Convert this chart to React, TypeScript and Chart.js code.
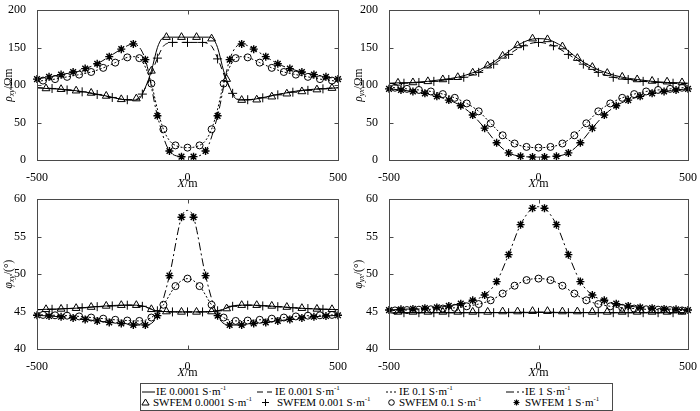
import React, { useEffect, useRef } from "react";
import { Chart, registerables } from "chart.js";

Chart.register(...registerables);

const FONT = '"Liberation Serif", "Times New Roman", serif';

// SWFEM station positions (m)
const X_TRI = [-470, -420, -370, -320, -270, -220, -170, -120, -70, -20, 30, 80, 130, 180, 230, 280, 330, 380, 430, 480];
const X_PLUS = [-450, -400, -350, -300, -250, -200, -150, -100, -50, 0, 50, 100, 150, 200, 250, 300, 350, 400, 450];
const X_CIRC = [-480, -440, -400, -360, -320, -280, -240, -200, -160, -120, -80, -40, 0, 40, 80, 120, 160, 200, 240, 280, 320, 360, 400, 440, 480];
const X_STAR = [-500, -460, -420, -380, -340, -300, -260, -220, -180, -140, -100, -60, -20, 20, 60, 100, 140, 180, 220, 260, 300, 340, 380, 420, 460, 500];

// IE curve sample positions (m)
const X_PLUS_IE = [-500, -450, -400, -350, -300, -250, -200, -150, -100, -50, 0, 50, 100, 150, 200, 250, 300, 350, 400, 450, 500];
const X_CIRC_IE = [-500, -480, -440, -400, -360, -320, -280, -240, -200, -160, -120, -80, -40, 0, 40, 80, 120, 160, 200, 240, 280, 320, 360, 400, 440, 480, 500];
const X_STAR_IE = [-500, -460, -420, -380, -340, -300, -260, -220, -180, -140, -100, -60, -20, 0, 20, 60, 100, 140, 180, 220, 260, 300, 340, 380, 420, 460, 500];
const X_FLAT_IE = [-500, -250, 0, 250, 500];

// ---- rho_xy (Ohm.m)
const RXY_IE1_X = [-500, -470, -420, -370, -320, -270, -220, -180, -160, -140, -120, -100, -85, -70, -20, 30, 70, 85, 100, 120, 140, 160, 180, 220, 270, 320, 370, 420, 470, 500];
const RXY_IE1 = [96.5, 95.5, 94.5, 92.5, 89.5, 85.5, 81, 80, 82, 97, 119, 150, 162, 164, 164, 164, 164, 162, 150, 119, 97, 82, 80, 81, 85, 89, 92.5, 94.5, 95.5, 96.5];
const RXY_IE2_X = [-500, -450, -400, -350, -300, -250, -200, -175, -150, -125, -100, -80, -65, -50, 0, 50, 65, 80, 100, 125, 150, 175, 200, 250, 300, 350, 400, 450, 500];
const RXY_IE2 = [96.5, 95.5, 93.5, 91, 87.5, 83.5, 80.5, 80.5, 89, 110, 136, 152, 156, 157, 157, 157, 156, 152, 136, 110, 89, 80.5, 80.5, 83.5, 87.5, 91, 93.5, 95.5, 96.5];
const RXY_IE3_X = [-500, -480, -440, -400, -360, -320, -280, -240, -200, -175, -160, -140, -120, -100, -80, -60, -40, 0, 40, 60, 80, 100, 120, 140, 160, 175, 200, 240, 280, 320, 360, 400, 440, 480, 500];
const RXY_IE3 = [105, 106, 108, 111, 114, 117.5, 123, 130, 137, 138, 136, 124, 102, 68, 41, 26, 19.5, 16.5, 19.5, 26, 41, 68, 102, 124, 136, 138, 137, 130, 123, 117.5, 114, 111, 108, 106, 105];
const RXY_IE4 = [108, 111, 114, 117.5, 122, 128.5, 138, 148, 155, 134, 59, 12, 4.5, 4, 4.5, 12, 59, 134, 155, 148, 138, 128.5, 122, 117.5, 114, 111, 108];
const RXY_TRI = [95.5, 94.5, 92.5, 89.5, 85.5, 81, 82, 119, 164, 164, 164, 162, 108, 80, 80.5, 84.5, 88.5, 91.5, 94, 96];
const RXY_PLUS = [95.5, 93.5, 91, 87.5, 83.5, 80.5, 88, 136, 157, 157, 157, 135, 89, 80.5, 83, 87, 90.5, 93, 95];
const RXY_CIRC = [106, 108, 111, 114, 117.5, 123, 130, 137, 136, 102, 41, 19.5, 16.5, 19.5, 41, 102, 136, 137, 130, 123, 117.5, 114, 111, 108, 106];
const RXY_STAR = [108, 111, 114, 117.5, 122, 128.5, 138, 148, 155, 134, 59, 12, 4.5, 4.5, 12, 59, 134, 155, 148, 138, 128.5, 122, 117.5, 114, 111, 108];

// ---- rho_yx (Ohm.m)
const RYX_IE1_X = [-500, -470, -420, -370, -320, -270, -220, -170, -120, -70, -20, 0, 30, 80, 130, 180, 230, 280, 330, 380, 430, 480, 500];
const RYX_IE1 = [102.5, 103, 103.5, 105, 107.5, 110.5, 116.5, 126, 139, 153, 161.5, 162, 161, 151.5, 136, 124, 116, 110.5, 107.5, 105, 103.5, 103, 102.5];
const RYX_IE2 = [102, 102.5, 103.5, 105, 107.5, 110.5, 117, 128, 141, 152.5, 157, 152.5, 141, 128, 117, 110.5, 107.5, 105, 103.5, 102.5, 102];
const RYX_IE3 = [97, 96.5, 95, 93.5, 91.5, 88, 83, 75.5, 65, 49, 33, 22, 17.5, 16.5, 17.5, 22, 33, 49, 65, 75.5, 83, 88, 91.5, 93.5, 95, 96.5, 97];
const RYX_IE4 = [95, 93.5, 91.5, 89, 85, 80, 72.5, 60, 42.5, 23, 9.5, 5, 4, 3.8, 4, 5, 9.5, 23, 42.5, 60, 72.5, 80, 85, 89, 91.5, 93.5, 95];
const RYX_TRI = [103, 103.5, 105, 107.5, 110.5, 116.5, 126, 139, 153, 162, 161, 151.5, 136, 124, 116, 111, 107.5, 105.5, 104.5, 103.5];
const RYX_PLUS = [102.5, 103.5, 105, 107.5, 110.5, 117, 128, 141, 152.5, 157, 152.5, 141, 128, 117, 110.5, 107.5, 105, 103.5, 102.5];
const RYX_CIRC = [96.5, 95, 93.5, 91.5, 88, 83, 75.5, 65, 49, 33, 22, 17.5, 16.5, 17.5, 22, 33, 49, 65, 75.5, 83, 88, 91.5, 93.5, 95, 96.5];
const RYX_STAR = [95, 93.5, 91.5, 89, 85, 80, 72.5, 60, 42.5, 23, 9.5, 5, 4, 4, 5, 9.5, 23, 42.5, 60, 72.5, 80, 85, 89, 91.5, 93.5, 95];

// ---- phi_xy (degrees)
const PXY_IE1_X = [-500, -470, -420, -370, -320, -270, -220, -170, -140, -120, -100, -70, -20, 30, 80, 100, 120, 140, 170, 220, 270, 320, 370, 420, 470, 500];
const PXY_IE1 = [45.25, 45.3, 45.35, 45.45, 45.6, 45.75, 45.85, 45.85, 45.65, 45.3, 45.05, 45.0, 44.95, 44.95, 45.0, 45.05, 45.3, 45.65, 45.85, 45.85, 45.75, 45.6, 45.45, 45.35, 45.3, 45.25];
const PXY_IE2 = [45.25, 45.3, 45.4, 45.5, 45.65, 45.75, 45.85, 45.7, 45.1, 44.95, 44.95, 44.95, 45.1, 45.7, 45.85, 45.75, 45.65, 45.5, 45.4, 45.3, 45.25];
const PXY_IE3 = [44.6, 44.55, 44.5, 44.45, 44.35, 44.2, 44.05, 43.9, 43.8, 43.75, 44.2, 45.9, 48.4, 49.4, 48.4, 45.9, 44.2, 43.75, 43.8, 43.9, 44.05, 44.2, 44.35, 44.45, 44.5, 44.55, 44.6];
const PXY_IE4 = [44.5, 44.4, 44.3, 44.15, 43.95, 43.75, 43.55, 43.4, 43.2, 43.2, 44.45, 49.8, 57.6, 58.5, 57.6, 49.8, 44.45, 43.2, 43.2, 43.4, 43.55, 43.75, 43.95, 44.15, 44.3, 44.4, 44.5];
const PXY_TRI = [45.3, 45.35, 45.45, 45.6, 45.75, 45.85, 45.85, 45.3, 45.0, 44.95, 44.95, 45.0, 45.4, 45.85, 45.85, 45.75, 45.6, 45.45, 45.35, 45.3];
const PXY_PLUS = [45.3, 45.4, 45.5, 45.65, 45.75, 45.85, 45.7, 45.1, 44.95, 44.95, 44.95, 45.1, 45.7, 45.85, 45.75, 45.65, 45.5, 45.4, 45.3];
const PXY_CIRC = [44.55, 44.5, 44.45, 44.35, 44.2, 44.05, 43.9, 43.8, 43.75, 44.2, 45.9, 48.4, 49.4, 48.4, 45.9, 44.2, 43.75, 43.8, 43.9, 44.05, 44.2, 44.35, 44.45, 44.5, 44.55];
const PXY_STAR = [44.5, 44.4, 44.3, 44.15, 43.95, 43.75, 43.55, 43.4, 43.2, 43.2, 44.45, 49.8, 57.6, 57.6, 49.8, 44.45, 43.2, 43.2, 43.4, 43.55, 43.75, 43.95, 44.15, 44.3, 44.4, 44.5];

// ---- phi_yx (degrees)
const PYX_IE1 = [44.85, 44.85, 44.9, 44.85, 44.85];
const PYX_IE2 = [44.85, 44.85, 44.9, 44.85, 44.85];
const PYX_IE3 = [45.1, 45.15, 45.2, 45.25, 45.3, 45.4, 45.5, 45.7, 46.0, 46.5, 47.4, 48.45, 49.2, 49.4, 49.2, 48.45, 47.4, 46.5, 46.0, 45.7, 45.5, 45.4, 45.3, 45.25, 45.2, 45.15, 45.1];
const PYX_IE4 = [45.2, 45.3, 45.35, 45.45, 45.55, 45.75, 46.05, 46.5, 47.2, 49.0, 52.6, 56.6, 58.8, 59.0, 58.8, 56.6, 52.6, 49.0, 47.2, 46.5, 46.05, 45.75, 45.55, 45.45, 45.35, 45.3, 45.2];
const PYX_TRI = [44.95, 44.95, 44.95, 44.95, 44.95, 44.95, 44.95, 45.0, 45.0, 45.05, 45.05, 45.0, 45.0, 44.95, 44.95, 44.95, 44.95, 44.95, 44.95, 44.95];
const PYX_PLUS = [44.85, 44.85, 44.85, 44.85, 44.85, 44.85, 44.85, 44.85, 44.85, 44.9, 44.85, 44.85, 44.85, 44.85, 44.85, 44.85, 44.85, 44.85, 44.85];
const PYX_CIRC = [45.15, 45.2, 45.25, 45.3, 45.4, 45.5, 45.7, 46.0, 46.5, 47.4, 48.45, 49.2, 49.4, 49.2, 48.45, 47.4, 46.5, 46.0, 45.7, 45.5, 45.4, 45.3, 45.25, 45.2, 45.15];
const PYX_STAR = [45.2, 45.3, 45.35, 45.45, 45.55, 45.75, 46.05, 46.5, 47.2, 49.0, 52.6, 56.6, 58.8, 58.8, 56.6, 52.6, 49.0, 47.2, 46.5, 46.05, 45.75, 45.55, 45.45, 45.35, 45.3, 45.2];

const CONDUCTIVITIES = ["0.0001", "0.001", "0.1", "1"];
const LINE_DASHES: number[][] = [[], [6, 4], [2, 2], [8, 3, 2, 3]];
const POINT_STYLES = ["triangle", "cross", "circle", "star"];
const POINT_RADII = [4.5, 4.5, 3.5, 4];
const POINT_WIDTHS = [1, 1, 1, 1.4];

type Part = { t: string; it?: boolean; sub?: boolean };

type PanelDef = {
  left: number;
  top: number;
  yAxisWidth: number;
  padRight: number;
  yMin: number;
  yMax: number;
  yStep: number;
  yTitle: Part[];
  ie: [number[], number[]][];
  swfem: [number[], number[]][];
};

const W = 350;
const H = 190;

const PANELS: PanelDef[] = [
  {
    left: 0, top: 0, yAxisWidth: 37, padRight: 12, yMin: 0, yMax: 200, yStep: 50,
    yTitle: [{ t: "ρ", it: true }, { t: "xy", it: true, sub: true }, { t: "/Ωm" }],
    ie: [[RXY_IE1_X, RXY_IE1], [RXY_IE2_X, RXY_IE2], [RXY_IE3_X, RXY_IE3], [X_STAR_IE, RXY_IE4]],
    swfem: [[X_TRI, RXY_TRI], [X_PLUS, RXY_PLUS], [X_CIRC, RXY_CIRC], [X_STAR, RXY_STAR]],
  },
  {
    left: 350, top: 0, yAxisWidth: 39, padRight: 10, yMin: 0, yMax: 200, yStep: 50,
    yTitle: [{ t: "ρ", it: true }, { t: "yx", it: true, sub: true }, { t: "/Ωm" }],
    ie: [[RYX_IE1_X, RYX_IE1], [X_PLUS_IE, RYX_IE2], [X_CIRC_IE, RYX_IE3], [X_STAR_IE, RYX_IE4]],
    swfem: [[X_TRI, RYX_TRI], [X_PLUS, RYX_PLUS], [X_CIRC, RYX_CIRC], [X_STAR, RYX_STAR]],
  },
  {
    left: 0, top: 189, yAxisWidth: 37, padRight: 12, yMin: 40, yMax: 60, yStep: 5,
    yTitle: [{ t: "φ", it: true }, { t: "xy", it: true, sub: true }, { t: "/(°)" }],
    ie: [[PXY_IE1_X, PXY_IE1], [X_PLUS_IE, PXY_IE2], [X_CIRC_IE, PXY_IE3], [X_STAR_IE, PXY_IE4]],
    swfem: [[X_TRI, PXY_TRI], [X_PLUS, PXY_PLUS], [X_CIRC, PXY_CIRC], [X_STAR, PXY_STAR]],
  },
  {
    left: 350, top: 189, yAxisWidth: 39, padRight: 10, yMin: 40, yMax: 60, yStep: 5,
    yTitle: [{ t: "φ", it: true }, { t: "yx", it: true, sub: true }, { t: "/(°)" }],
    ie: [[X_FLAT_IE, PYX_IE1], [X_FLAT_IE, PYX_IE2], [X_CIRC_IE, PYX_IE3], [X_STAR_IE, PYX_IE4]],
    swfem: [[X_TRI, PYX_TRI], [X_PLUS, PYX_PLUS], [X_CIRC, PYX_CIRC], [X_STAR, PYX_STAR]],
  },
];

const X_TITLE: Part[] = [{ t: "X", it: true }, { t: "/m" }];

// Mixed italic / subscript label; (cx, baseline) is the centre of the run on its baseline.
function drawRich(ctx: CanvasRenderingContext2D, parts: Part[], cx: number, baseline: number, vertical: boolean, size: number) {
  const fontOf = (p: Part) => `${p.it ? "italic " : ""}${p.sub ? Math.round(size * 0.7) : size}px ${FONT}`;
  let w = 0;
  for (const p of parts) {
    ctx.font = fontOf(p);
    w += ctx.measureText(p.t).width;
  }
  ctx.save();
  if (vertical) {
    ctx.translate(baseline, cx);
    ctx.rotate(-Math.PI / 2);
  } else {
    ctx.translate(cx, baseline);
  }
  ctx.fillStyle = "#000";
  ctx.textAlign = "left";
  ctx.textBaseline = "alphabetic";
  let x = -w / 2;
  for (const p of parts) {
    ctx.font = fontOf(p);
    ctx.fillText(p.t, x, p.sub ? size * 0.22 : 0);
    x += ctx.measureText(p.t).width;
  }
  ctx.restore();
}

// Box frame with inward ticks on all four sides, plus axis titles.
const framePlugin = {
  id: "frameBox",
  afterDraw(chart: any, _args: any, opts: any) {
    const { ctx, chartArea: a, scales } = chart;
    const L = Math.round(a.left) + 0.5;
    const R = Math.round(a.right) + 0.5;
    const T = Math.round(a.top) + 0.5;
    const B = Math.round(a.bottom) + 0.5;
    const tl = 4;
    ctx.save();
    ctx.strokeStyle = "#4a4a4a";
    ctx.lineWidth = 1;
    ctx.setLineDash([]);
    ctx.strokeRect(L, T, R - L, B - T);
    ctx.beginPath();
    for (const t of scales.x.ticks) {
      const px = Math.round(scales.x.getPixelForValue(t.value)) + 0.5;
      ctx.moveTo(px, B);
      ctx.lineTo(px, B - tl);
      ctx.moveTo(px, T);
      ctx.lineTo(px, T + tl);
    }
    for (const t of scales.y.ticks) {
      const py = Math.round(scales.y.getPixelForValue(t.value)) + 0.5;
      ctx.moveTo(L, py);
      ctx.lineTo(L + tl, py);
      ctx.moveTo(R, py);
      ctx.lineTo(R - tl, py);
    }
    ctx.stroke();
    ctx.restore();
    drawRich(ctx, opts.yTitle, (a.top + a.bottom) / 2, 11.5, true, 11.5);
    drawRich(ctx, X_TITLE, (a.left + a.right) / 2, a.bottom + 27, false, 12);
  },
};

function makeConfig(p: PanelDef): any {
  const tickFont = { family: FONT, size: 12 };
  const datasets: any[] = [];
  p.ie.forEach(([xs, ys], i) => {
    datasets.push({
      label: `IE ${CONDUCTIVITIES[i]} S·m-1`,
      data: xs.map((x, k) => ({ x, y: ys[k] })),
      showLine: true,
      borderColor: "#000",
      borderWidth: 1,
      borderDash: LINE_DASHES[i],
      pointRadius: 0,
      cubicInterpolationMode: "monotone",
      fill: false,
    });
  });
  p.swfem.forEach(([xs, ys], i) => {
    datasets.push({
      label: `SWFEM ${CONDUCTIVITIES[i]} S·m-1`,
      data: xs.map((x, k) => ({ x, y: ys[k] })),
      showLine: false,
      pointStyle: POINT_STYLES[i],
      pointRadius: POINT_RADII[i],
      pointBorderColor: "#000",
      pointBackgroundColor: "rgba(0,0,0,0)",
      pointBorderWidth: POINT_WIDTHS[i],
      clip: false,
    });
  });
  return {
    type: "scatter",
    data: { datasets },
    options: {
      responsive: false,
      animation: false,
      events: [],
      devicePixelRatio: 1,
      layout: { padding: { top: 7, right: p.padRight, left: 0, bottom: 0 } },
      plugins: {
        legend: { display: false },
        tooltip: { enabled: false },
        frameBox: { yTitle: p.yTitle },
      },
      scales: {
        x: {
          type: "linear",
          min: -500,
          max: 500,
          grid: { display: false },
          border: { display: false },
          ticks: { stepSize: 500, font: tickFont, color: "#000", padding: 3, maxRotation: 0, autoSkip: false },
          afterFit: (s: any) => { s.height = H - 160; },
        },
        y: {
          type: "linear",
          min: p.yMin,
          max: p.yMax,
          grid: { display: false },
          border: { display: false },
          ticks: { stepSize: p.yStep, font: tickFont, color: "#000", padding: 3, autoSkip: false },
          afterFit: (s: any) => { s.width = p.yAxisWidth; },
        },
      },
    },
    plugins: [framePlugin],
  };
}

function Panel({ def }: { def: PanelDef }) {
  const ref = useRef<HTMLCanvasElement | null>(null);
  useEffect(() => {
    if (!ref.current) return;
    const chart = new Chart(ref.current, makeConfig(def));
    return () => chart.destroy();
  }, [def]);
  return (
    <canvas
      ref={ref}
      width={W}
      height={H}
      style={{ position: "absolute", left: def.left, top: def.top, width: W, height: H }}
    />
  );
}

function LineSample({ dash, width }: { dash: number[]; width: number }) {
  return (
    <svg width={width} height={6} style={{ display: "block" }}>
      <line x1={0} y1={3} x2={width} y2={3} stroke="#000" strokeWidth={1} strokeDasharray={dash.length ? dash.join(" ") : undefined} />
    </svg>
  );
}

function MarkerSample({ kind }: { kind: number }) {
  const s = 9;
  const c = 4.5;
  let el: React.ReactNode = null;
  if (kind === 0) el = <polygon points={`${c},1 ${c + 3.6},7 ${c - 3.6},7`} fill="none" stroke="#000" strokeWidth={1} />;
  if (kind === 1) el = <path d={`M${c} 1 V8 M1 ${c} H8`} stroke="#000" strokeWidth={1} fill="none" />;
  if (kind === 2) el = <circle cx={c} cy={c} r={2.8} fill="none" stroke="#000" strokeWidth={1} />;
  if (kind === 3)
    el = (
      <path
        d={`M${c} 1.5 V7.5 M1.5 ${c} H7.5 M2.4 2.4 L6.6 6.6 M6.6 2.4 L2.4 6.6`}
        stroke="#000"
        strokeWidth={1.2}
        fill="none"
      />
    );
  return (
    <svg width={s} height={s} style={{ display: "block" }}>
      {el}
    </svg>
  );
}

const LEGEND_ROW1 = [
  { sampleLeft: 142, sampleWidth: 13, textLeft: 156 },
  { sampleLeft: 257, sampleWidth: 15, textLeft: 275 },
  { sampleLeft: 386, sampleWidth: 12, textLeft: 399 },
  { sampleLeft: 506, sampleWidth: 18, textLeft: 525 },
];
const LEGEND_ROW2 = [
  { markCenter: 145, textLeft: 153 },
  { markCenter: 265, textLeft: 277 },
  { markCenter: 391, textLeft: 399 },
  { markCenter: 516, textLeft: 525 },
];

function Unit() {
  return (
    <>
      {" S·m"}
      <sup style={{ fontSize: 7, verticalAlign: "top", lineHeight: "9px", position: "relative", top: -1 }}>-1</sup>
    </>
  );
}

function Legend() {
  const textStyle: React.CSSProperties = {
    position: "absolute",
    fontFamily: FONT,
    fontSize: 11,
    lineHeight: "12px",
    whiteSpace: "nowrap",
    color: "#000",
  };
  return (
    <div style={{ position: "absolute", left: 0, top: 0, width: 700, height: 411, pointerEvents: "none" }}>
      <div
        style={{
          position: "absolute",
          left: 140,
          top: 383,
          width: 471,
          height: 26,
          border: "1px solid #4a4a4a",
          background: "#fff",
        }}
      />
      {LEGEND_ROW1.map((r, i) => (
        <React.Fragment key={`r1-${i}`}>
          <div style={{ position: "absolute", left: r.sampleLeft, top: 389 }}>
            <LineSample dash={LINE_DASHES[i]} width={r.sampleWidth} />
          </div>
          <div style={{ ...textStyle, left: r.textLeft, top: 385 }}>
            IE {CONDUCTIVITIES[i]}
            <Unit />
          </div>
        </React.Fragment>
      ))}
      {LEGEND_ROW2.map((r, i) => (
        <React.Fragment key={`r2-${i}`}>
          <div style={{ position: "absolute", left: r.markCenter - 4.5, top: 398 }}>
            <MarkerSample kind={i} />
          </div>
          <div style={{ ...textStyle, left: r.textLeft, top: 396 }}>
            SWFEM {CONDUCTIVITIES[i]}
            <Unit />
          </div>
        </React.Fragment>
      ))}
    </div>
  );
}

export default function App() {
  return (
    <div style={{ position: "absolute", left: 0, top: 0, width: 700, height: 411, background: "#fff", overflow: "hidden" }}>
      {PANELS.map((p, i) => (
        <Panel key={i} def={p} />
      ))}
      <Legend />
    </div>
  );
}
